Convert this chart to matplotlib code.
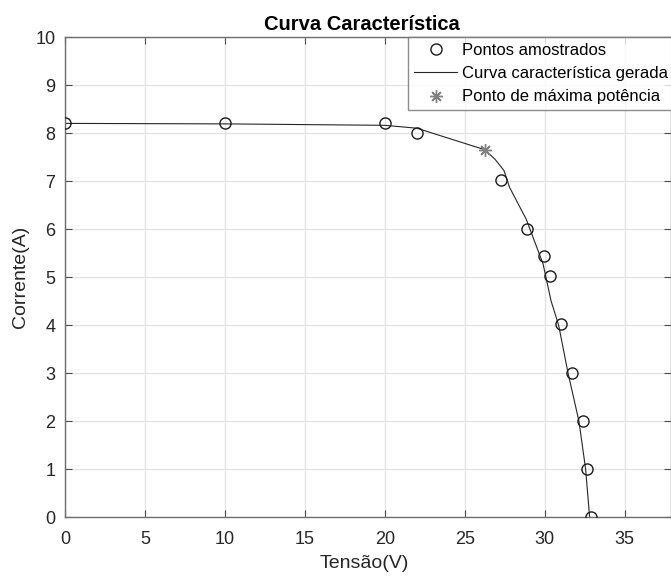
import matplotlib
matplotlib.use("Agg")
import matplotlib.pyplot as plt

plt.rcParams['font.family'] = ['Liberation Sans', 'DejaVu Sans']

# Sampled points
v_samples = [0, 10, 20, 22.0, 27.25, 28.92, 29.96, 30.33, 31.0, 31.7, 32.42, 32.67, 32.88]
i_samples = [8.2, 8.2, 8.21, 8.01, 7.02, 6.01, 5.44, 5.02, 4.02, 2.99, 1.99, 1.0, 0.0]

# Generated characteristic curve
v_curve = [0, 10, 20, 22, 26.27, 26.9, 27.45, 27.8, 28.85, 29.9, 30.4, 30.87, 31.46, 32.14, 32.56, 32.81]
i_curve = [8.2, 8.19, 8.16, 8.1, 7.65, 7.45, 7.22, 6.87, 6.2, 5.27, 4.5, 4.0, 3.0, 2.0, 1.0, 0.0]

# Maximum power point
v_mpp = [26.27]
i_mpp = [7.64]

xticks = [0, 5, 10, 15, 20, 25, 30, 35]
yticks = list(range(0, 11))

fig = plt.figure(figsize=(6.71, 5.76), dpi=100)
ax = fig.add_axes([65/671, 59/576, 606/671, 480/576])

ax.plot(v_samples, i_samples, linestyle='none', marker='o', markersize=8,
        markerfacecolor='none', markeredgecolor='#1a1a1a', markeredgewidth=1.0,
        label='Pontos amostrados', zorder=3)
ax.plot(v_curve, i_curve, color='#262626', linewidth=0.8,
        label='Curva característica gerada', zorder=2)
ax.plot(v_mpp, i_mpp, linestyle='none', marker=(8, 2, 0), markersize=9,
        markeredgecolor='#808080', markeredgewidth=1.0, color='#808080',
        label='Ponto de máxima potência', zorder=4)

ax.set_xlim(0, 37.9)
ax.set_ylim(0, 10)
ax.set_xticks(xticks)
ax.set_yticks(yticks)
ax.grid(True, color='#e3e3e3', linewidth=1.0)
ax.set_axisbelow(True)
for s in ax.spines.values():
    s.set_color('#6e6e6e')
    s.set_linewidth(1.0)
ax.tick_params(direction='in', length=5, width=0.8, color='#4d4d4d',
               top=True, right=True, labelsize=13, labelcolor='#262626')
ax.tick_params(axis='x', pad=10)
ax.tick_params(axis='y', pad=7)

ax.text(0.49, 1.006, 'Curva Característica', transform=ax.transAxes,
        ha='center', va='bottom', fontsize=14.5, fontweight='bold', color='#000000')
fig.text(364/671, 1 - 564/576, 'Tensão(V)', ha='center', va='center',
         fontsize=14, color='#262626')
fig.text(21/671, 1 - 277/576, 'Corrente(A)', ha='center', va='center',
         rotation=90, fontsize=14, color='#262626')

leg = ax.legend(loc='upper left', bbox_to_anchor=(408/671, 1 - 37/576),
                bbox_transform=fig.transFigure, fontsize=12, frameon=True,
                fancybox=False, edgecolor='#6e6e6e', borderpad=0.35,
                labelspacing=0.5, handlelength=2.6, handletextpad=0.3,
                borderaxespad=0)
leg.get_frame().set_linewidth(1.0)
for t in leg.get_texts():
    t.set_color('#000000')

fig.savefig('out.png', dpi=100)
